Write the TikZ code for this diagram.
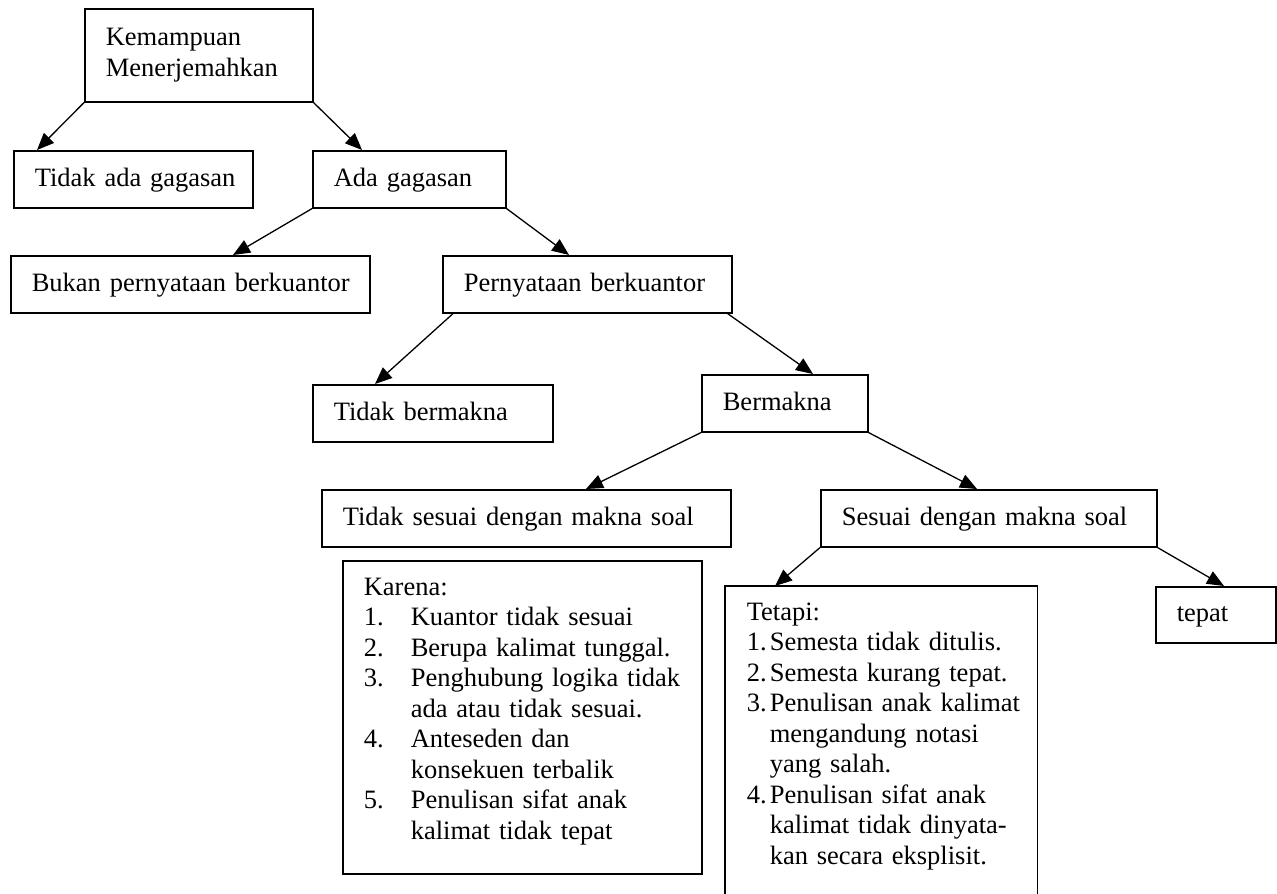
\documentclass[tikz,border=0pt]{standalone}
\usepackage{fontspec}
\setmainfont{Liberation Serif}
\usetikzlibrary{arrows.meta}
\newcommand\fsz{\fontsize{26.5pt}{30.5pt}\selectfont}
\begin{document}
\begin{tikzpicture}[x=1pt,y=-1pt,
  box/.style={draw, line width=1.6pt, anchor=north west, inner xsep=21pt, inner ysep=0pt, align=left, font=\fsz},
  single/.style={box, text height=19pt, text depth=5pt, minimum height=57pt},
  arr/.style={-{Triangle[length=17pt,width=14pt]}, line width=1.3pt}]
\useasboundingbox (0,0) rectangle (1277,894);
\clip (0,0) rectangle (1277,894);

\node[box, minimum height=93pt, text width=186pt] (top) at (84,8) {\mbox{Kemampuan}\\\mbox{Menerjemahkan}};
\node[single, text width=197pt] (tidakada) at (13,150) {\mbox{Tidak ada gagasan}};
\node[single, text width=151pt] (ada) at (312,150) {\mbox{Ada gagasan}};
\node[single, text width=317pt] (bukan) at (10,255) {\mbox{Bukan pernyataan berkuantor}};
\node[single, text width=247pt] (pern) at (442,255) {\mbox{Pernyataan berkuantor}};
\node[single, text width=198pt] (tbermakna) at (312,384) {\mbox{Tidak bermakna}};
\node[single, text width=124pt] (bermakna) at (701,374) {\mbox{Bermakna}};
\node[single, text width=367pt] (tsesuai) at (321,489) {\mbox{Tidak sesuai dengan makna soal}};
\node[single, text width=294pt] (sesuai) at (820,489) {\mbox{Sesuai dengan makna soal}};
\node[single, text width=78pt, minimum height=56pt] (tepat) at (1155,586) {\mbox{tepat}};

\node[box, minimum height=313pt, text width=317pt] (karena) at (342,560)
  {Karena:\\
   \mbox{\makebox[47pt][l]{1.}Kuantor tidak sesuai}\\
   \mbox{\makebox[47pt][l]{2.}Berupa kalimat tunggal.}\\
   \mbox{\makebox[47pt][l]{3.}Penghubung logika tidak}\\
   \mbox{\hspace*{47pt}ada atau tidak sesuai.}\\
   \mbox{\makebox[47pt][l]{4.}Anteseden dan}\\
   \mbox{\hspace*{47pt}konsekuen terbalik}\\
   \mbox{\makebox[47pt][l]{5.}Penulisan sifat anak}\\
   \mbox{\hspace*{47pt}kalimat tidak tepat}\rule[-17pt]{0pt}{17pt}};

\node[box, draw=none, inner ysep=15.9pt, text width=269pt] (tetapi) at (725,586)
  {Tetapi:\\
   \mbox{\makebox[23pt][l]{1.}Semesta tidak ditulis.}\\
   \mbox{\makebox[23pt][l]{2.}Semesta kurang tepat.}\\
   \mbox{\makebox[23pt][l]{3.}Penulisan anak kalimat}\\
   \mbox{\hspace*{23pt}mengandung notasi}\\
   \mbox{\hspace*{23pt}yang salah.}\\
   \mbox{\makebox[23pt][l]{4.}Penulisan sifat anak}\\
   \mbox{\hspace*{23pt}kalimat tidak dinyata-}\\
   \mbox{\hspace*{23pt}kan secara eksplisit.}};
\draw[line width=1.6pt] ([yshift=-400pt]tetapi.north west) -- (tetapi.north west)
  -- (tetapi.north east) -- ([yshift=-400pt]tetapi.north east);

\draw[arr] (top.south west) -- ([xshift=24pt]tidakada.north west);
\draw[arr] (top.south east) -- ([xshift=50pt]ada.north west);
\draw[arr] (ada.south west) -- ([xshift=223pt]bukan.north west);
\draw[arr] (ada.south east) -- ([xshift=127pt]pern.north west);
\draw[arr] ([xshift=11pt]pern.south west) -- ([xshift=63pt]tbermakna.north west);
\draw[arr] ([xshift=-5pt]pern.south east) -- ([xshift=112pt]bermakna.north west);
\draw[arr] (bermakna.south west) -- ([xshift=265pt]tsesuai.north west);
\draw[arr] (bermakna.south east) -- ([xshift=157pt]sesuai.north west);
\draw[arr] (sesuai.south west) -- ([xshift=50pt]tetapi.north west);
\draw[arr] (sesuai.south east) -- ([xshift=69pt]tepat.north west);
\end{tikzpicture}
\end{document}
